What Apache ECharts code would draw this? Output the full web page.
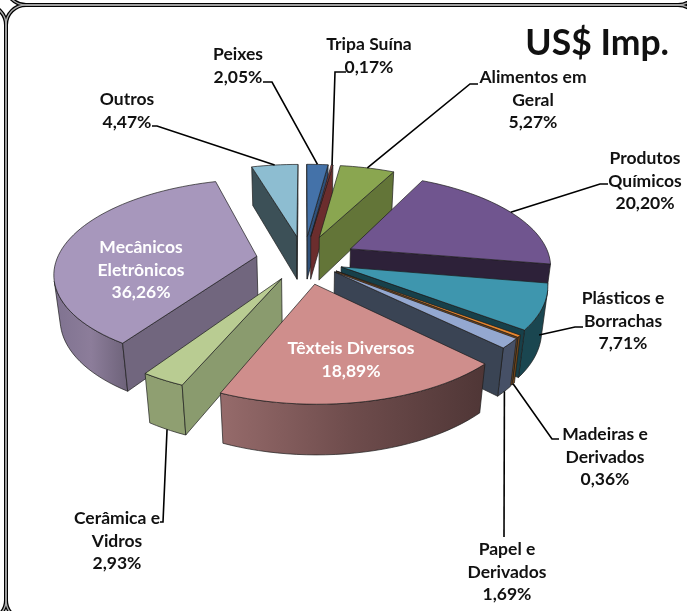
<!DOCTYPE html>
<html>
<head>
<meta charset="utf-8">
<style>
html,body{margin:0;padding:0;background:#fff;}
#main{width:687px;height:611px;}
</style>
<script src="https://cdn.jsdelivr.net/npm/echarts@6/dist/echarts.min.js"></script>
</head>
<body>
<div id="main"></div>
<script>
// fatias no sentido horario a partir do topo
const categories = ['Peixes', 'Tripa Suína', 'Alimentos em\nGeral', 'Produtos\nQuímicos', 'Plásticos e\nBorrachas', 'Madeiras e\nDerivados', 'Papel e\nDerivados', 'Têxteis Diversos', 'Cerâmica e\nVidros', 'Mecânicos\nEletrônicos', 'Outros'];
const shares = [2.05, 0.17, 5.27, 20.20, 7.71, 0.36, 1.69, 18.89, 2.93, 36.26, 4.47];

const topColors = ['#4472a9', '#943f3e', '#8aa650', '#70558f', '#3e96ae', '#e6862e', '#94a8d0', '#cf8e8c', '#b9cc92', '#a797bc', '#8dbdd1'];
const wallColors = ['#2f5079', '#6b2d2d', '#637538', '#2d2139', '#17404a', '#7a4a1c', '#3a4454', '#6e4c4c', '#8a9b6e', '#71667e', '#3c5057'];
// parede externa, da esquerda para a direita
const outerStops = [
    ['#2f5079'], ['#6b2d2d'], ['#5f7035'], ['#3a2b4a'], ['#1a4650'], ['#6f4518'], ['#465066'],
    ['#966b6b', '#6e4c4c', '#4f3636'], ['#8f9f71'], ['#7f7290', '#8c7d9a', '#6d6279'], ['#3c5057']
];
const explode = [0.265, 0.265, 0.265, 0.265, 0.2, 0.2, 0.2, 0.265, 0.23, 0.24, 0.265];

// label: centro do texto, cor, fim da linha guia e ponto da guia na fatia (0 topo, 1 base)
const labelLayout = [
    {x: 238, y: 66, leader: [[272, 82], [263, 82]], z: 0},
    {x: 369, y: 56, leader: [[335, 72], [346, 72]], z: 0},
    {x: 533, y: 100, leader: [[470, 84], [478, 84]], z: 0},
    {x: 645, y: 181, leader: [[600, 184], [608, 184]], z: 0},
    {x: 623, y: 321, leader: [[575, 327], [583, 327]], z: 0.6},
    {x: 605, y: 457, leader: [[552, 439], [559, 439]], z: 1},
    {x: 507, y: 572, leader: [[504, 537]], z: 1},
    {x: 351, y: 360, color: '#fff'},
    {x: 117, y: 541, leader: [[163, 522], [160, 522]], z: 1},
    {x: 141, y: 270, color: '#fff'},
    {x: 127, y: 111, leader: [[157, 126], [152, 126]], z: 0}
];

const labelFont = 'bold 17.5px Lato';
const total = shares.reduce((a, b) => a + b, 0);

// perspectiva do plano da pizza
const view = {cx: 304, cy: 259.5, A: 200, B: 91, k: 0.165, j: 0.025, D: 45};

function project(X, Y, z) {
    const w = 1 + view.k * Y + view.j * z;
    return [view.cx + view.A * X / w, view.cy + (-view.B * Y + view.D * z) / w];
}

function toAngle(v) {
    return echarts.number.linearMap(v, [0, total], [0, Math.PI * 2]);
}

function area(p) {
    let s = 0;
    for (let i = 0; i < p.length; i++) {
        const q = p[(i + 1) % p.length];
        s += p[i][0] * q[1] - q[0] * p[i][1];
    }
    return s;
}

function poly(points, fill, z2) {
    return {
        type: 'polygon',
        z2: z2,
        shape: {points: points},
        style: {fill: fill, stroke: '#1c1c1c', lineWidth: 0.7, lineJoin: 'round'}
    };
}

function wallFill(stops) {
    if (stops.length === 1) return stops[0];
    return new echarts.graphic.LinearGradient(0, 0, 1, 0, stops.map((c, n) => ({offset: n / (stops.length - 1), color: c})));
}

function renderSlice(params, api) {
    const i = api.value(0);
    let cum = 0;
    for (let n = 0; n < i; n++) cum += shares[n];
    const a0 = toAngle(cum);
    const a1 = toAngle(cum + api.value(1));
    const mid = (a0 + a1) / 2;
    const e = explode[i];
    const ox = e * Math.sin(mid);
    const oy = e * Math.cos(mid);
    const rim = (a, z) => project(ox + Math.sin(a), oy + Math.cos(a), z);
    const apex = z => project(ox, oy, z);

    // fatias de tras para a frente
    const base = Math.round((1 - Math.cos(mid)) * 100) * 10;
    const children = [];

    const wall = (p, q, color) => {
        const pts = [p(0), q(0), q(1), p(1)];
        if (area(pts) < 0) children.push(poly(pts, color, base + 2));
    };
    wall(z => apex(z), z => rim(a0, z), wallColors[i]);
    wall(z => rim(a1, z), z => apex(z), wallColors[i]);

    const steps = Math.max(2, Math.ceil((a1 - a0) / 0.04));
    const topEdge = [];
    const upper = [];
    const lower = [];
    for (let s = 0; s <= steps; s++) {
        const a = a0 + (a1 - a0) * s / steps;
        topEdge.push(rim(a, 0));
        if (s === steps) break;
        const b = a0 + (a1 - a0) * (s + 1) / steps;
        if (area([rim(a, 0), rim(b, 0), rim(b, 1), rim(a, 1)]) < 0) {
            if (!upper.length) {
                upper.push(rim(a, 0));
                lower.push(rim(a, 1));
            }
            upper.push(rim(b, 0));
            lower.push(rim(b, 1));
        }
    }
    if (upper.length) children.push(poly(upper.concat(lower.reverse()), wallFill(outerStops[i]), base + 1));
    children.push(poly([apex(0)].concat(topEdge), topColors[i], base + 4));

    const lay = labelLayout[i];
    if (lay.leader) {
        children.push({
            type: 'polyline',
            z2: 5000,
            shape: {points: [rim(mid, lay.z)].concat(lay.leader)},
            style: {fill: 'none', stroke: '#000', lineWidth: 1.6}
        });
    }
    children.push({
        type: 'text',
        z2: 5001,
        style: {
            x: lay.x,
            y: lay.y,
            text: categories[i] + '\n' + api.value(1).toFixed(2).replace('.', ',') + '%',
            fill: lay.color || '#111',
            font: labelFont,
            lineHeight: 22.8,
            align: 'center',
            verticalAlign: 'middle'
        }
    });
    return {type: 'group', children: children};
}

function framePanel(x, y, width, height) {
    return [
        {type: 'rect', z: -2, shape: {x: x, y: y, width: width, height: height, r: 20}, style: {fill: 'none', stroke: '#000', lineWidth: 4}},
        {type: 'rect', z: -1, shape: {x: x, y: y, width: width, height: height, r: 20}, style: {fill: 'none', stroke: '#aaa', lineWidth: 1.4}}
    ];
}

const chart = echarts.init(document.getElementById('main'));
chart.setOption({
    animation: false,
    backgroundColor: '#fff',
    title: {
        text: 'US$ Imp.',
        right: 18,
        top: 26,
        padding: 0,
        textStyle: {fontFamily: 'Lato', fontWeight: 'bold', fontSize: 35.5, color: '#111'}
    },
    graphic: framePanel(6, -60, 692, 65).concat(framePanel(-60, 5, 66, 615), framePanel(6, 5, 692, 615)),
    series: [{
        type: 'custom',
        coordinateSystem: 'none',
        silent: true,
        clip: false,
        renderItem: renderSlice,
        data: shares.map((v, i) => [i, v])
    }]
});
</script>
</body>
</html>
